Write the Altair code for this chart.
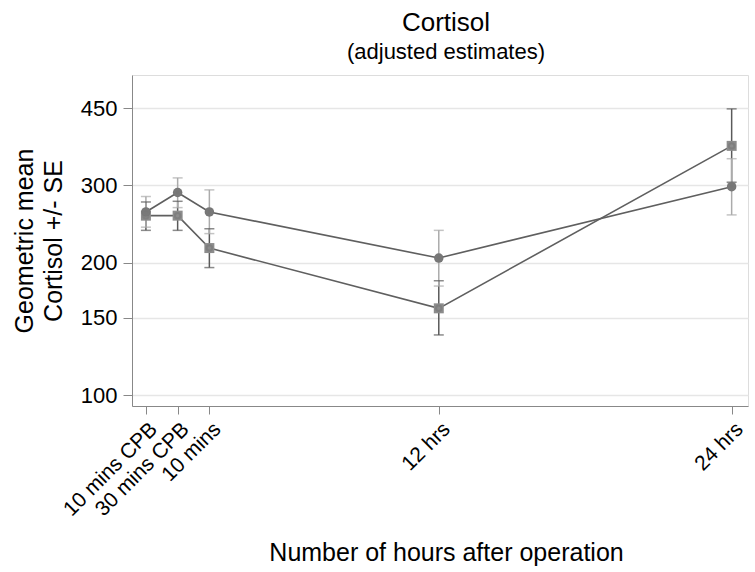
import altair as alt
import pandas as pd

times = [0, 1.3, 2.6, 12, 24]
time_labels = ["10 mins CPB", "30 mins CPB", "10 mins", "12 hrs", "24 hrs"]
groups = ["normoxic", "hyperoxic"]
normoxic_mean = [256, 256, 216, 157.5, 369]
normoxic_lo = [237, 237, 195, 137, 305]
normoxic_hi = [275, 276, 239, 182, 448]
hyperoxic_mean = [261, 289, 261, 205, 298]
hyperoxic_lo = [241, 267, 233, 177, 257]
hyperoxic_hi = [283, 312, 293, 237, 345]
y_ticks = [100, 150, 200, 300, 450]

rows = []
for g, m, lo, hi in [("normoxic", normoxic_mean, normoxic_lo, normoxic_hi),
                     ("hyperoxic", hyperoxic_mean, hyperoxic_lo, hyperoxic_hi)]:
    for t, a, b, c in zip(times, m, lo, hi):
        rows.append({"t": t, "group": g, "g2": g, "mean": a, "lo": b, "hi": c})
df = pd.DataFrame(rows)

expr = "''"
for v, lab in reversed(list(zip(times, time_labels))):
    expr = f"datum.value == {v} ? '{lab}' : ({expr})"

FONT = "Liberation Sans"

x = alt.X("t:Q", scale=alt.Scale(domain=[-0.57, 24.67], nice=False, zero=False),
          axis=alt.Axis(values=times, labelExpr=expr, labelAngle=-45, labelFontSize=21,
                        labelOverlap=False, labelFlush=False,
                        title="Number of hours after operation", titleFontSize=25,
                        titleFontWeight="normal", titleX=314, titleY=154,
                        titleBaseline="alphabetic", grid=False,
                        tickSize=8, labelPadding=4))
y = alt.Y("mean:Q", scale=alt.Scale(type="log", domain=[94.4, 535], nice=False),
          axis=alt.Axis(values=y_ticks, labelFontSize=22, title=["Geometric mean", "Cortisol +/- SE"],
                        titleFontSize=25, titleFontWeight="normal", titlePadding=14,
                        titleLineHeight=29, labelOverlap=False, labelFlush=False,
                        tickSize=9, labelPadding=6, grid=True, gridColor="#e6e6e6",
                        gridWidth=1.5))

base = alt.Chart(df)

err_colors = alt.Scale(domain=groups, range=["#5a5a5a", "#ababab"])

rules = base.mark_rule(strokeWidth=1.5).encode(
    x=x, y=alt.Y("lo:Q"), y2="hi:Q",
    color=alt.Color("group:N", scale=err_colors, legend=None))
caps_lo = base.mark_tick(orient="horizontal", size=10, thickness=1.5).encode(
    x=x, y=alt.Y("lo:Q"), color=alt.Color("group:N", scale=err_colors, legend=None))
caps_hi = base.mark_tick(orient="horizontal", size=10, thickness=1.5).encode(
    x=x, y=alt.Y("hi:Q"), color=alt.Color("group:N", scale=err_colors, legend=None))

lines = base.mark_line(color="#5f5f5f", strokeWidth=1.6).encode(
    x=x, y=y, detail="group:N")

sq = base.transform_filter("datum.group == 'normoxic'").mark_point(
    shape="square", filled=True, size=100, color="#8c8c8c", opacity=1).encode(x=x, y=y)
ci = base.transform_filter("datum.group == 'hyperoxic'").mark_point(
    shape="circle", filled=True, size=90, color="#767676", opacity=1).encode(x=x, y=y)

legend_layer = base.mark_point(filled=False, size=30).encode(
    x=x, y=y,
    stroke=alt.Stroke("g2:N", scale=alt.Scale(domain=groups, range=["#7a7a7a", "#7a7a7a"]),
                      legend=alt.Legend(title=None, orient="none", legendX=135, legendY=290,
                                        direction="horizontal", symbolType="stroke",
                                        symbolSize=625, symbolStrokeWidth=1.5,
                                        labelFontSize=19, labelFont=FONT, labelColor="black",
                                        labelOffset=12, columnPadding=24, padding=5,
                                        strokeColor="black", fillColor="white")))

chart = alt.layer(rules, caps_lo, caps_hi, lines, sq, ci, legend_layer).properties(
    width=616, height=331,
    title=alt.TitleParams("Cortisol", subtitle="(adjusted estimates)", fontSize=26,
                          subtitleFontSize=22, font=FONT, subtitleFont=FONT,
                          fontWeight="normal", color="black", subtitleColor="black",
                          anchor="middle", offset=12, subtitlePadding=6, dx=6),
    autosize=alt.AutoSizeParams(type="none"),
    padding={"left": 132, "top": 75, "right": 7, "bottom": 166},
).configure_axis(
    labelFont=FONT, titleFont=FONT, labelColor="black", titleColor="black",
    domainColor="black", tickColor="black", domainWidth=1.3, tickWidth=1.3,
).configure_view(stroke=None).configure(background="white")

chart.save("out.html", embed_options={"renderer": "svg", "actions": False})
